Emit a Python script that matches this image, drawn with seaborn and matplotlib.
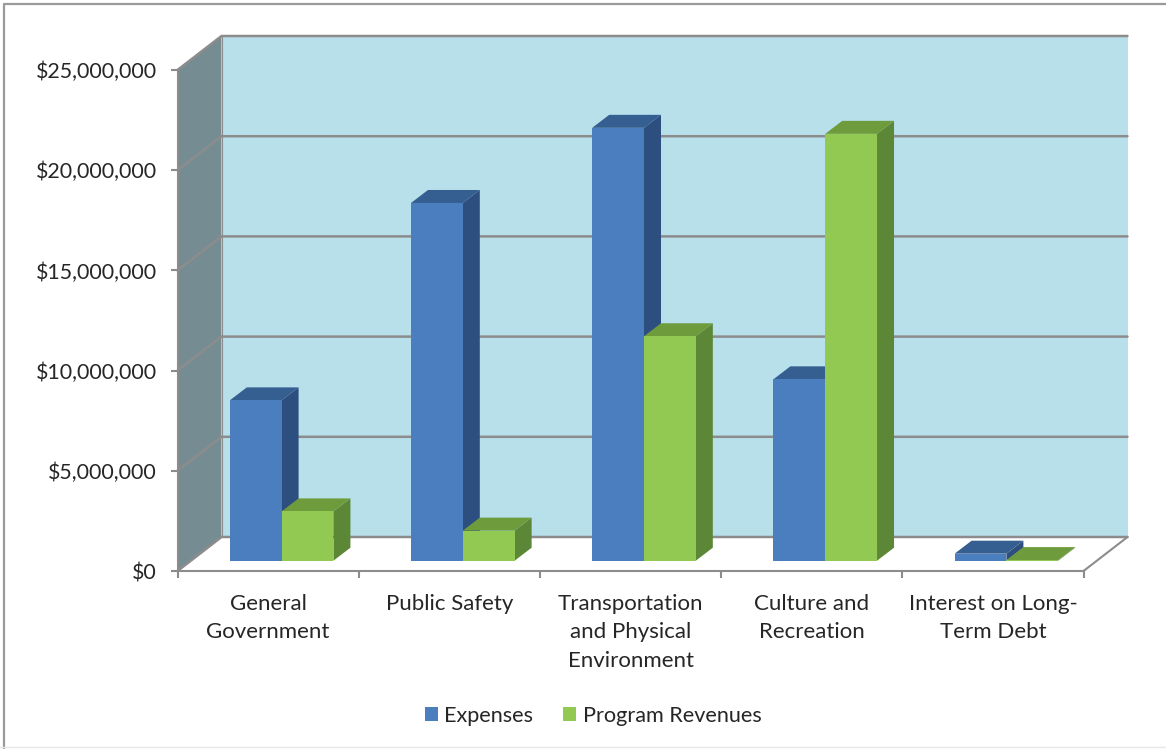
# Imports
import matplotlib
matplotlib.use("Agg")
import matplotlib.pyplot as plt
from matplotlib.patches import Polygon
from matplotlib.transforms import IdentityTransform
import pandas as pd
import seaborn as sns

# Data
categories = ["General\nGovernment", "Public Safety", "Transportation\nand Physical\nEnvironment",
              "Culture and\nRecreation", "Interest on Long-\nTerm Debt"]
expenses = [8000000, 17850000, 21600000, 9050000, 350000]
program_revenues = [2460000, 1500000, 11200000, 21300000, 30000]
y_ticks = [0, 5000000, 10000000, 15000000, 20000000, 25000000]
y_labels = ["$0", "$5,000,000", "$10,000,000", "$15,000,000", "$20,000,000", "$25,000,000"]

# Colours
wall = "#b7e0eb"
side_wall = "#768c93"
line_grey = "#8c8c8c"
text_col = "#262626"
fronts = ["#4a7ebf", "#92c952"]
sides = ["#2d4f7f", "#5c8737"]
tops = ["#365f91", "#6e9c3d"]

W, H = 1166, 749
wall_dx, wall_dy = 44, 34     # depth of the box, px
bar_dx, bar_dy = 17, 13       # depth of a bar, px
font_size = 16

sns.set_theme(style="white")
plt.rcParams["font.family"] = ["Lato", "DejaVu Sans"]


def axes_px(left, right, top, bottom):
    return fig.add_axes([left / W, 1 - bottom / H, (right - left) / W, (bottom - top) / H])


def poly(points, color, zorder, **kw):
    # points are display pixels
    fig.add_artist(Polygon(points, closed=True, facecolor=color, edgecolor="none",
                           transform=IdentityTransform(), zorder=zorder, **kw))


fig = plt.figure(figsize=(W / 100, H / 100), dpi=100, facecolor="white")

# axis box with ticks and labels
ax_f = axes_px(177.5, 1083.5, 70, 571)
ax_f.set_xlim(0, 5)
ax_f.set_ylim(0, 25000000)
ax_f.set_facecolor("none")
ax_f.set_yticks(y_ticks)
ax_f.set_yticklabels(y_labels, fontsize=15.4, color=text_col)
ax_f.set_xticks(range(6))
ax_f.set_xticklabels([])
ax_f.set_xticks([i + 0.5 for i in range(5)], minor=True)
ax_f.set_xticklabels(categories, minor=True, fontsize=font_size, color=text_col, linespacing=1.53)
ax_f.tick_params(axis="y", length=5, width=1.5, color=line_grey, pad=10, left=True)
ax_f.tick_params(axis="x", which="major", length=5, width=1.5, color=line_grey, bottom=True)
ax_f.tick_params(axis="x", which="minor", length=0, pad=16.5)
sns.despine(ax=ax_f, top=True, right=True)
for s in ["left", "bottom"]:
    ax_f.spines[s].set_color(line_grey)
    ax_f.spines[s].set_linewidth(1.5)

# walls and gridlines, built from the axis scale
to_px = ax_f.transData.transform
(x0, y0), (x1, y1) = to_px((0, 0)), to_px((5, 25000000))
poly([(x0 + wall_dx, y0 + wall_dy), (x1 + wall_dx, y0 + wall_dy),
      (x1 + wall_dx, y1 + wall_dy), (x0 + wall_dx, y1 + wall_dy)], wall, -3)
poly([(x0, y0), (x0 + wall_dx, y0 + wall_dy), (x0 + wall_dx, y1 + wall_dy), (x0, y1)], side_wall, -2)
for t in y_ticks:
    y = to_px((0, t))[1]
    fig.add_artist(plt.Line2D([x0, x0 + wall_dx, x1 + wall_dx], [y, y + wall_dy, y + wall_dy],
                              color=line_grey, lw=1.8, transform=IdentityTransform(), zorder=-1))
fig.add_artist(plt.Line2D([x1, x1 + wall_dx], [y0, y0 + wall_dy], color=line_grey, lw=1.5,
                          transform=IdentityTransform(), zorder=-1))
fig.add_artist(plt.Line2D([x0 + wall_dx, x0 + wall_dx], [y0 + wall_dy, y1 + wall_dy], color=line_grey,
                          lw=0.8, transform=IdentityTransform(), zorder=-1))

# bars sit a little inside the floor
ax = axes_px(191, 1097, 59.7, 560.7)
ax.set_facecolor("none")

df = pd.DataFrame({
    "category": categories * 2,
    "value": expenses + program_revenues,
    "series": ["Expenses"] * 5 + ["Program Revenues"] * 5,
})
sns.barplot(data=df, x="category", y="value", hue="series", palette=fronts, saturation=1,
            width=0.572, gap=0, ax=ax, linewidth=0)
ax.set_xlim(-0.5, 4.5)
ax.set_ylim(0, 25000000)

# side and top faces from the drawn bars
for n, bars in enumerate(ax.containers):
    for bar in bars:
        bar.set_zorder(4 + 2 * n)
        left, bottom = ax.transData.transform((bar.get_x(), 0))
        right, top = ax.transData.transform((bar.get_x() + bar.get_width(), bar.get_height()))
        ax.add_patch(Polygon([(right, bottom), (right + bar_dx, bottom + bar_dy),
                              (right + bar_dx, top + bar_dy), (right, top)], closed=True,
                             facecolor=sides[n], edgecolor="none", transform=IdentityTransform(),
                             zorder=3 + 2 * n))
        ax.add_patch(Polygon([(left, top), (right, top), (right + bar_dx, top + bar_dy),
                              (left + bar_dx, top + bar_dy)], closed=True,
                             facecolor=tops[n], edgecolor="none", transform=IdentityTransform(),
                             zorder=3 + 2 * n))

ax.axis("off")

# legend
handles, labels = ax.get_legend_handles_labels()
leg = ax.legend(handles, labels, ncol=2, frameon=False, fontsize=15.6, loc="center",
                bbox_to_anchor=(593 / W, 1 - 716 / H), bbox_transform=fig.transFigure,
                handlelength=0.62, handleheight=0.62, handletextpad=0.3, columnspacing=1.35)
for t in leg.get_texts():
    t.set_color(text_col)

# chart border: left and top only, faint at the bottom
fig.add_artist(plt.Line2D([4 / W, 4 / W, 1], [0, 1 - 4 / H, 1 - 4 / H], color="#9a9a9a", lw=1.6, zorder=-5))
fig.add_artist(plt.Line2D([0, 1], [2 / H, 2 / H], color="#e8e8e8", lw=1, zorder=-4))

fig.savefig("out.png", dpi=100)
